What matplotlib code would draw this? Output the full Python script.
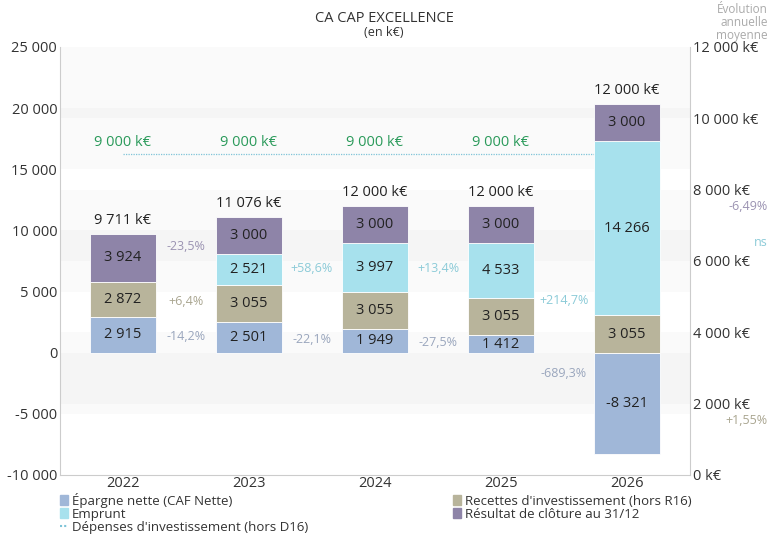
import matplotlib
matplotlib.use("Agg")
import matplotlib.pyplot as plt
from matplotlib.patches import Patch
from matplotlib.lines import Line2D
from matplotlib import font_manager as fm
import numpy as np

years = ["2022", "2023", "2024", "2025", "2026"]
epargne = [2915, 2501, 1949, 1412, -8321]
recettes = [2872, 3055, 3055, 3055, 3055]
emprunt = [0, 2521, 3997, 4533, 14266]
resultat = [3924, 3000, 3000, 3000, 3000]
totaux = ["9 711 k€", "11 076 k€", "12 000 k€", "12 000 k€", "12 000 k€"]
depenses = [9000, 9000, 9000, 9000, 9000]
depenses_labels = ["9 000 k€"] * 5

evol_epargne = ["-14,2%", "-22,1%", "-27,5%", "-689,3%"]
evol_recettes = ["+6,4%", "", "", ""]
evol_emprunt = ["", "+58,6%", "+13,4%", "+214,7%"]
evol_resultat = ["-23,5%", "", "", ""]

left_ticks = [-10000, -5000, 0, 5000, 10000, 15000, 20000, 25000]
right_ticks = [0, 2000, 4000, 6000, 8000, 10000, 12000]

avail = {f.name for f in fm.fontManager.ttflist}
base_font = "Open Sans" if "Open Sans" in avail else "DejaVu Sans"
narrow = "Liberation Sans Narrow" if "Liberation Sans Narrow" in avail else base_font
plt.rcParams['font.family'] = [base_font, 'DejaVu Sans']

def fmt(v):
    s = f"{abs(int(v)):,}".replace(",", " ")
    return ("-" if v < 0 else "") + s

c_ep = "#a0b7d8"
c_re = "#b8b49b"
c_em = "#a7e1ed"
c_rs = "#8e84a8"
c_ep_t = "#9aa6bd"
c_re_t = "#aaa691"
c_em_t = "#8ccbd8"
c_rs_t = "#9b93b2"

fig = plt.figure(figsize=(7.71, 5.36), dpi=100)
ax = fig.add_axes([60/771, 1-475/536, 630/771, 428/536])
ax2 = ax.twinx()
ax.set_zorder(2)
ax.patch.set_visible(False)
ax2.set_zorder(1)

ax.set_xlim(-0.5, 4.5)
ax.set_ylim(-10000, 25000)
ax2.set_ylim(0, 12000)

# background bands
for lo, hi in [(15000, 20000), (5000, 10000), (-5000, 0)]:
    ax2.axhspan((lo + 10000) * 12000 / 35000, (hi + 10000) * 12000 / 35000,
                color="#000000", alpha=0.02, lw=0, zorder=0)
for lo, hi in [(10000, 12000), (6000, 8000), (2000, 4000)]:
    ax2.axhspan(lo, hi, color="#000000", alpha=0.02, lw=0, zorder=0)

x = np.arange(len(years))
w = 0.53
series = [(epargne, c_ep), (recettes, c_re), (emprunt, c_em), (resultat, c_rs)]
pos_base = np.zeros(len(years))
neg_base = np.zeros(len(years))
naive = np.zeros(len(years))
centers = []
for vals, col in series:
    vals = np.array(vals, dtype=float)
    bottoms = np.where(vals >= 0, pos_base, neg_base)
    ax.bar(x, vals, w, bottom=bottoms, color=col, edgecolor="white", linewidth=0.6, zorder=3)
    for i, v in enumerate(vals):
        if v != 0:
            ax.text(x[i], bottoms[i] + v / 2, fmt(v), ha="center", va="center",
                    fontsize=10.5, color="#222222", zorder=5)
    centers.append(naive + vals / 2)
    naive = naive + vals
    pos_base = pos_base + np.where(vals >= 0, vals, 0)
    neg_base = neg_base + np.where(vals < 0, vals, 0)

for i in range(len(years)):
    ax.text(x[i], pos_base[i] + 500, totaux[i], ha="center", va="bottom",
            fontsize=10.5, color="#222222", zorder=5)

for labels, cen, col in zip([evol_epargne, evol_recettes, evol_emprunt, evol_resultat],
                            centers, [c_ep_t, c_re_t, c_em_t, c_rs_t]):
    for i, lab in enumerate(labels):
        if lab:
            ax.text(x[i] + 0.5, (cen[i] + cen[i + 1]) / 2, lab, ha="center", va="center",
                    fontsize=9, color=col, zorder=5)

ax2.plot(x, depenses, linestyle=(0, (1, 1)), color="#7fc4d8", lw=0.9, zorder=4)
for i in range(len(years)):
    ax2.text(x[i], depenses[i] + 100, depenses_labels[i], ha="center", va="bottom",
             fontsize=10.5, color="#2a9a5a", zorder=6)

ax.set_yticks(left_ticks)
ax.set_yticklabels([fmt(t) for t in left_ticks])
ax2.set_yticks(right_ticks)
ax2.set_yticklabels([fmt(t) + " k€" for t in right_ticks])
ax.set_xticks(x)
ax.set_xticklabels(years)
ax.tick_params(axis="y", length=0, labelsize=10.5, labelcolor="#333333", pad=2)
ax2.tick_params(axis="y", length=0, labelsize=10.5, labelcolor="#333333", pad=2)
ax.tick_params(axis="x", length=0, labelsize=10.5, labelcolor="#333333", pad=1)

for a in (ax, ax2):
    a.spines["top"].set_visible(False)
    for s in ("left", "right", "bottom"):
        a.spines[s].set_color("#cccccc")
ax.spines["right"].set_visible(False)
ax2.spines["left"].set_visible(False)
ax2.spines["bottom"].set_visible(False)

fig.text(384/771, 1-18/536, "CA CAP EXCELLENCE", ha="center", va="center",
         fontsize=10.5, color="#333333", family=[narrow, 'DejaVu Sans'])
fig.text(384/771, 1-32/536, "(en k€)", ha="center", va="center",
         fontsize=9, color="#333333")
fig.text(768/771, 1-3/536, "Évolution\nannuelle\nmoyenne", ha="right", va="top",
         fontsize=8.5, color="#aaaaaa", linespacing=1.0)
fig.text(768/771, 1-207/536, "-6,49%", ha="right", va="center", fontsize=9, color=c_rs_t)
fig.text(768/771, 1-242/536, "ns", ha="right", va="center", fontsize=9, color=c_em_t)
fig.text(768/771, 1-421/536, "+1,55%", ha="right", va="center", fontsize=9, color=c_re_t)

handles = [Patch(color=c_ep, label="Épargne nette (CAF Nette)"),
           Patch(color=c_em, label="Emprunt"),
           Line2D([0], [0], linestyle=(0, (1, 1)), color="#7fc4d8", lw=1.5,
                  label="Dépenses d'investissement (hors D16)"),
           Patch(color=c_re, label="Recettes d'investissement (hors R16)"),
           Patch(color=c_rs, label="Résultat de clôture au 31/12")]
leg = fig.legend(handles=handles, ncol=2, loc="upper left",
                 bbox_to_anchor=(60/771, 1-493/536), frameon=False,
                 handlelength=0.6, handleheight=0.8, handletextpad=0.3,
                 labelspacing=0.0, columnspacing=11.0, borderaxespad=0, borderpad=0,
                 prop={"family": [narrow, 'DejaVu Sans'], "size": 9.5})
for t in leg.get_texts():
    t.set_color("#333333")

fig.savefig("out.png", dpi=100)
